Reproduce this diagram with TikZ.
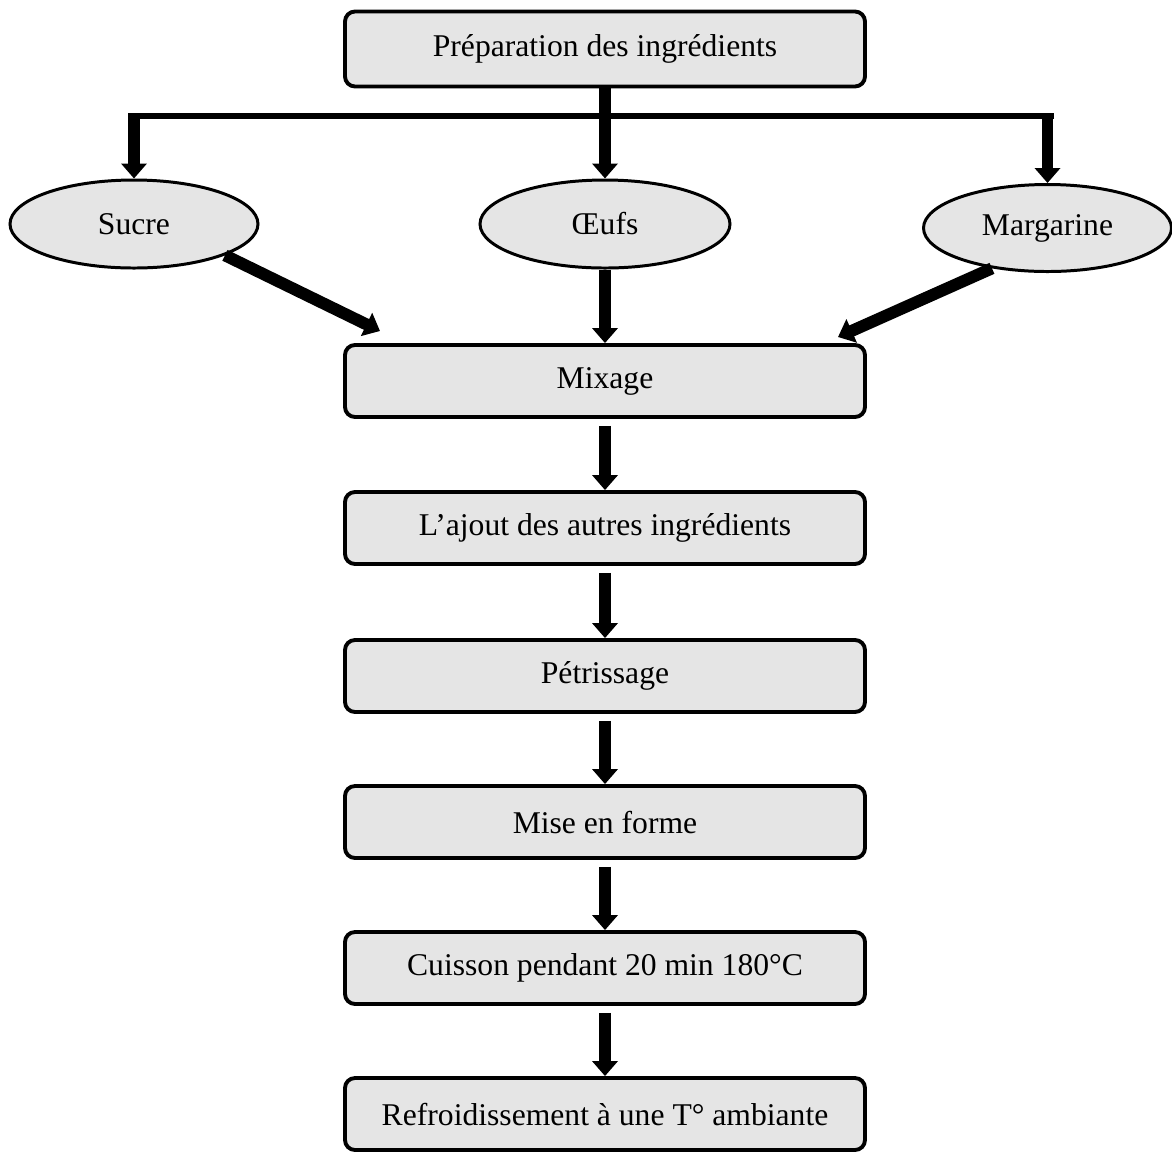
\documentclass[tikz,border=0pt]{standalone}
\usepackage{fontspec}
\setmainfont{Liberation Serif}
\usetikzlibrary{arrows.meta,shapes.geometric}
\tikzset{box/.style={rectangle, rounded corners=0.2cm, draw, line width=2.2pt,
  fill=black!10, minimum width=10.4cm, minimum height=1.44cm, inner sep=0pt},
  oval/.style={ellipse, draw, line width=1.7pt, fill=black!10,
  minimum width=4.96cm, minimum height=1.76cm, inner sep=0pt},
  flow/.style={line width=6.8pt, -{Triangle[length=0.3cm, width=0.5cm]}},
  bar/.style={line width=3.4pt}}

\begin{document}
\begin{tikzpicture}[font=\fontsize{18}{22}\selectfont]
  \useasboundingbox (0,0) rectangle (23.44,-23.02);
  \node[box, minimum height=1.5cm] (prep) at (12.1,-0.98) {Préparation des ingrédients};
  \node[oval] (sucre) at (2.68,-4.48) {Sucre};
  \node[oval, minimum width=5cm] (oeufs) at (12.1,-4.48) {Œufs};
  \node[oval, minimum height=1.74cm] (marg) at (20.95,-4.56) {Margarine};
  \node[box] (mix)   at (12.1,-7.62)  {Mixage};
  \node[box] (ajout) at (12.1,-10.56) {L’ajout des autres ingrédients};
  \node[box] (pet)   at (12.1,-13.52) {Pétrissage};
  \node[box] (mise)  at (12.1,-16.44) {Mise en forme};
  \node[box] (cuis)  at (12.1,-19.36) {Cuisson pendant 20 min 180°C};
  \node[box] (refr)  at (12.1,-22.28) {Refroidissement à une T° ambiante};
  % split towards the three ingredients
  \coordinate (bl) at (2.56,-2.32);
  \coordinate (br) at (21.07,-2.32);
  \coordinate (sl) at (2.68,-2.26);
  \coordinate (sr) at (20.95,-2.26);
  \coordinate (mixL) at (7.6,-6.62);
  \coordinate (mixR) at (16.76,-6.74);
  \draw[bar] (bl) -- (br);
  \draw[flow] (sl) -- (sucre);
  \draw[flow] (sr) -- (marg);
  \draw[flow] (prep) -- (oeufs);
  % ingredients into the mixer
  \draw[flow] (sucre.-19) -- (mixL);
  \draw[flow] (oeufs) -- (mix);
  \draw[flow] (marg.216) -- (mixR);
  % process chain
  \draw[flow, shorten <=0.14cm] (mix) -- (ajout);
  \draw[flow, shorten <=0.14cm] (ajout) -- (pet);
  \draw[flow, shorten <=0.14cm] (pet) -- (mise);
  \draw[flow, shorten <=0.14cm] (mise) -- (cuis);
  \draw[flow, shorten <=0.14cm] (cuis) -- (refr);
\end{tikzpicture}
\end{document}
